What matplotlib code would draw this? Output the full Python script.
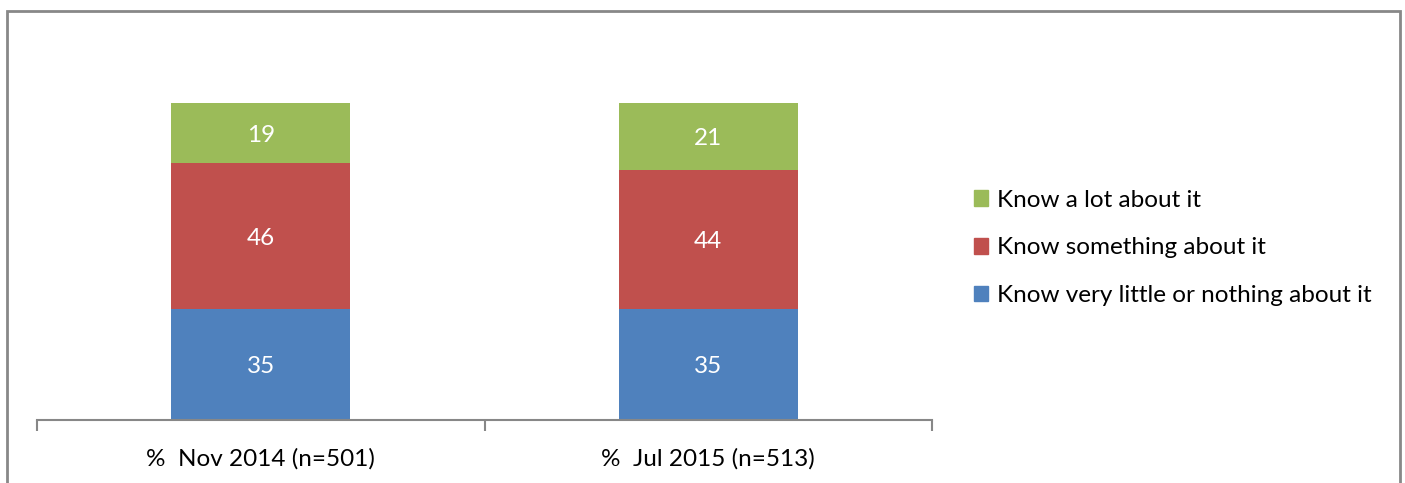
import matplotlib.pyplot as plt
from matplotlib.patches import Rectangle, Patch

plt.rcParams['font.family'] = ['Lato', 'DejaVu Sans']

# Data
categories = ['%  Nov 2014 (n=501)', '%  Jul 2015 (n=513)']
little = [35, 35]
something = [46, 44]
a_lot = [19, 21]

labels = ['Know very little or nothing about it', 'Know something about it', 'Know a lot about it']
colors = ['#4F81BD', '#C0504D', '#9BBB59']

W, H = 1405, 483
fs = 17.5
fig = plt.figure(figsize=(W / 100, H / 100), dpi=100)
ax = fig.add_axes([37 / W, (H - 420) / H, (932 - 37) / W, (420 - 103) / H])

x = range(len(categories))
bottom = [0, 0]
for vals, c in zip([little, something, a_lot], colors):
    ax.bar(x, vals, width=0.4, bottom=bottom, color=c, edgecolor='none')
    for xi, v, b in zip(x, vals, bottom):
        ax.text(xi, b + v / 2 - 0.6, str(v), ha='center', va='center', color='white', fontsize=fs)
    bottom = [b + v for b, v in zip(bottom, vals)]

ax.set_xlim(-0.5, 1.5)
ax.set_ylim(0, 100)
for s in ['top', 'right', 'left']:
    ax.spines[s].set_visible(False)
ax.spines['bottom'].set_color('#878787')
ax.spines['bottom'].set_linewidth(1.5)
ax.set_yticks([])
ax.set_xticks(list(x))
ax.set_xticklabels(categories, fontsize=fs)
ax.tick_params(axis='x', which='major', length=0, pad=20)
ax.set_xticks([-0.5, 0.5, 1.5], minor=True)
ax.tick_params(axis='x', which='minor', length=8, width=1.5, color='#878787')

handles = [Patch(color=c, label=l) for c, l in zip(colors, labels)][::-1]
fig.legend(handles=handles, loc='center left', bbox_to_anchor=(952 / W, (H - 248) / H),
           frameon=False, fontsize=fs, handlelength=0.6, handleheight=0.6,
           handletextpad=0.35, labelspacing=1.1)

# outer frame
fig.patches.append(Rectangle((7 / W, -0.05), (1400 - 7) / W, (H - 11) / H + 0.05,
                             transform=fig.transFigure, fill=False,
                             edgecolor='#888888', linewidth=2))

fig.savefig('out.png', dpi=100)
